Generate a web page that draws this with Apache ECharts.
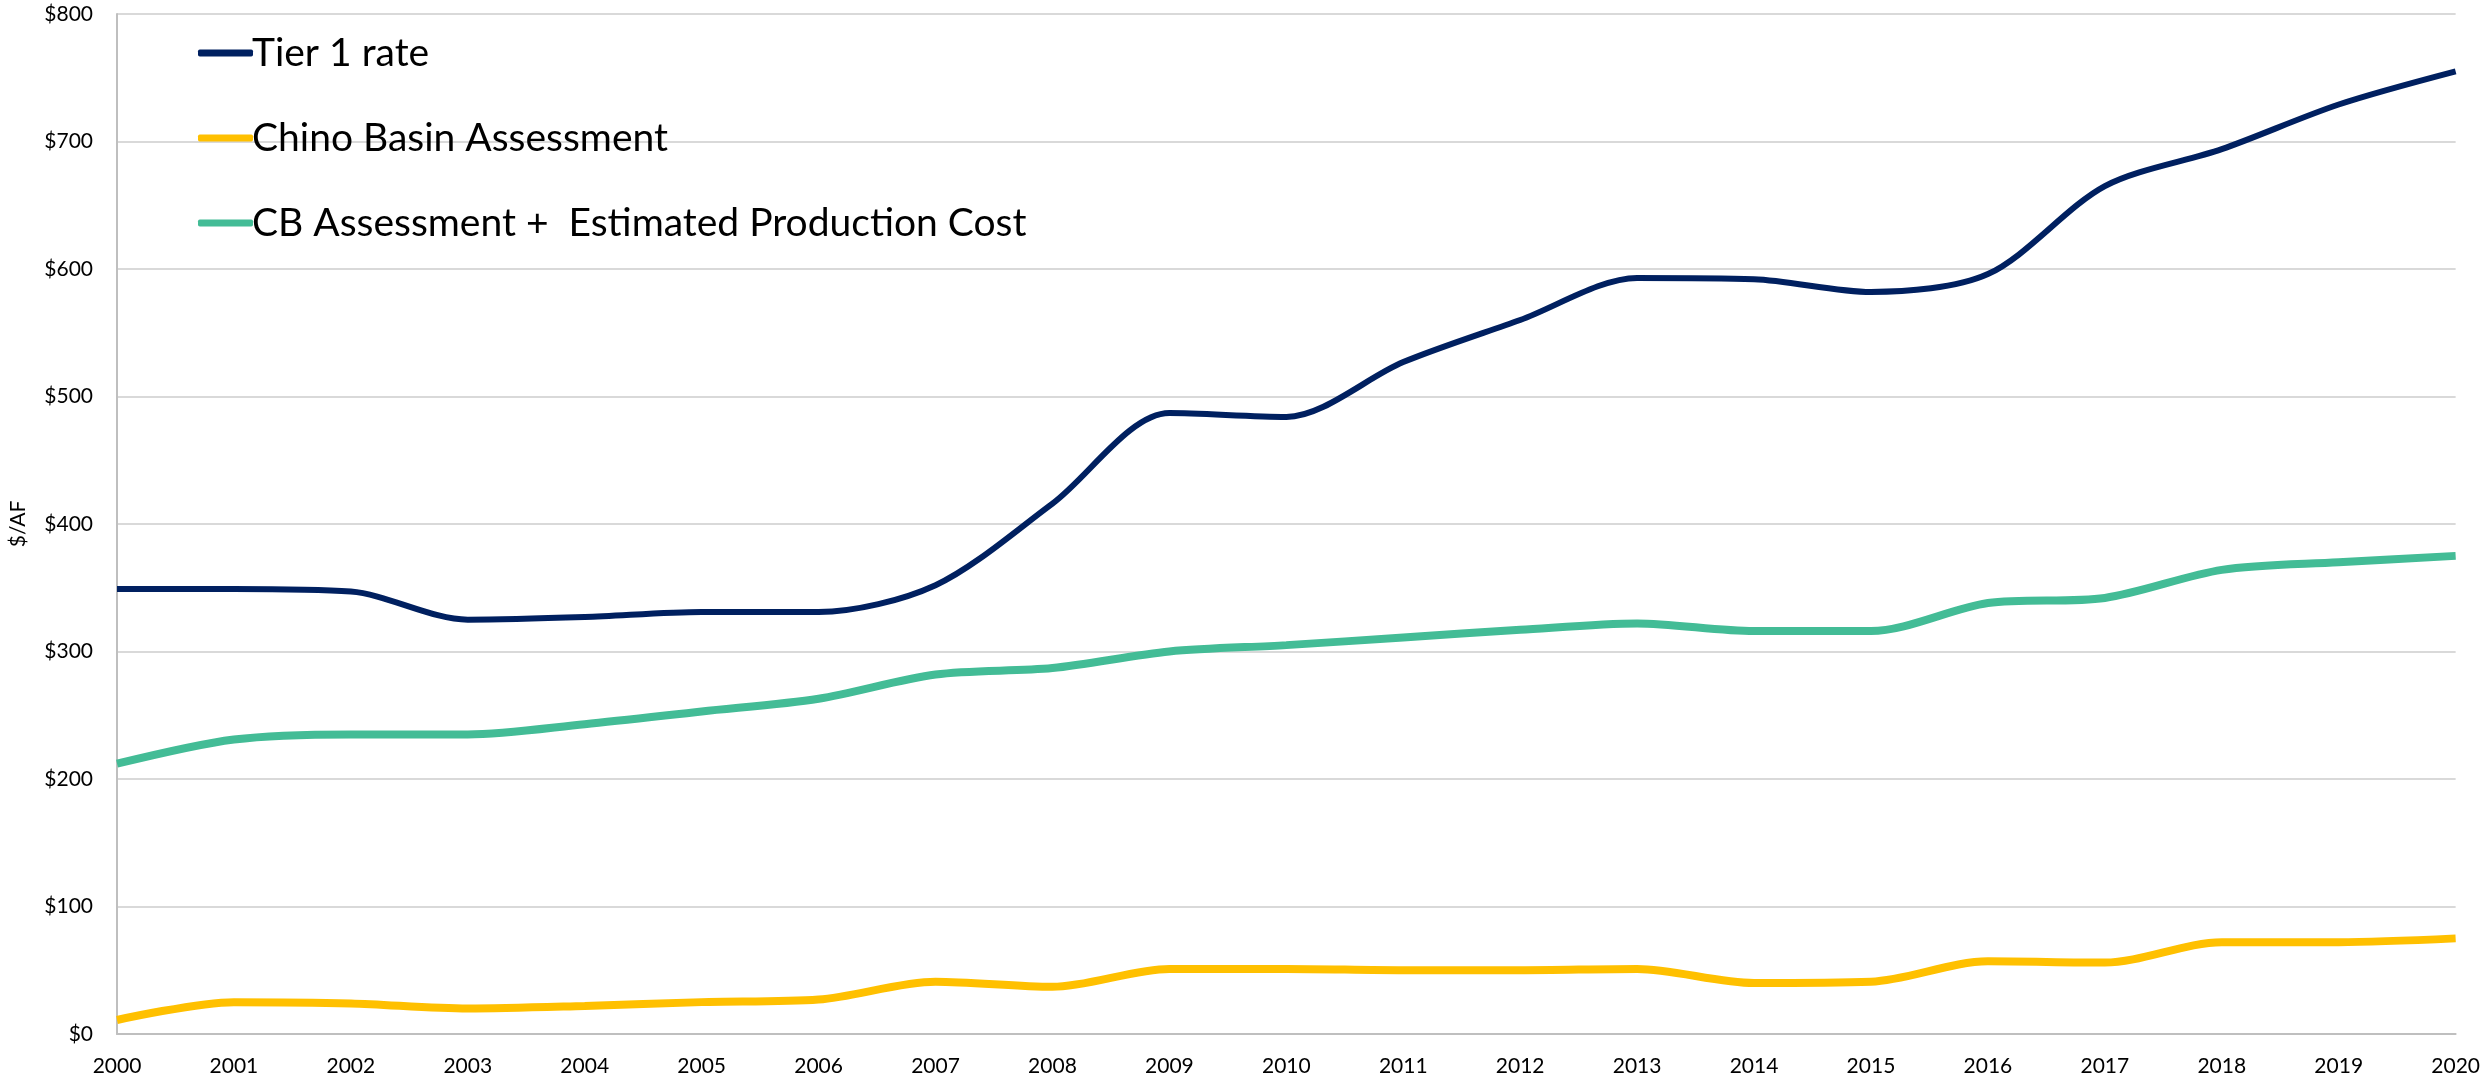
<!DOCTYPE html>
<html>
<head>
<meta charset="utf-8">
<script src="https://cdn.jsdelivr.net/npm/echarts@6/dist/echarts.min.js"></script>
<style>
html,body{margin:0;padding:0;background:#fff;}
#chart{width:2483px;height:1081px;}
</style>
</head>
<body>
<div id="chart"></div>
<script>
const years = ['2000','2001','2002','2003','2004','2005','2006','2007','2008','2009','2010','2011','2012','2013','2014','2015','2016','2017','2018','2019','2020'];
const tier1Rate = [349,349,347,325,327,331,331,352,416,487,484,527,560,593,592,582,596,665,694,729,755];
const chinoBasinAssessment = [11,25,24,20,22,25,27,41,37,51,51,50,50,51,40,41,57,56,72,72,75];
const cbPlusProduction = [212,231,235,235,243,253,263,282,287,300,305,311,317,322,316,316,338,342,364,370,375];
const seriesNames = ['Tier 1 rate','Chino Basin Assessment','CB Assessment +  Estimated Production Cost'];
const seriesColors = ['#002060','#FFC000','#43BC96'];

const FONT = 'Lato, "Open Sans", sans-serif';
const chart = echarts.init(document.getElementById('chart'));
chart.setOption({
  animation:false,
  backgroundColor:'#ffffff',
  grid:{left:107,right:15,top:14,bottom:47,containLabel:false},
  legend:{
    orient:'vertical',
    left:193, top:23,
    itemWidth:55, itemHeight:7, itemGap:35,
    icon:'roundRect',
    textStyle:{fontFamily:FONT,fontSize:39,color:'#000',lineHeight:50,padding:[0,0,0,-6]},
    data:seriesNames
  },
  xAxis:{
    type:'category', boundaryGap:false, data:years,
    axisLine:{lineStyle:{color:'#BFBFBF',width:2}},
    axisTick:{show:false},
    axisLabel:{fontFamily:FONT,fontSize:21,color:'#000',margin:22,showMaxLabel:true},
    splitLine:{show:false}
  },
  yAxis:{
    type:'value', min:0, max:800, interval:100,
    name:'$/AF', nameLocation:'middle', nameGap:88, nameRotate:90,
    nameTextStyle:{fontFamily:FONT,fontSize:21,color:'#000'},
    axisLine:{show:true,lineStyle:{color:'#BFBFBF',width:2}},
    axisTick:{show:false},
    axisLabel:{fontFamily:FONT,fontSize:21,color:'#000',margin:24,formatter:v=>'$'+v},
    splitLine:{lineStyle:{color:'#D9D9D9',width:2}}
  },
  series:[
    {name:seriesNames[0],type:'line',data:tier1Rate,smooth:0.3,symbol:'none',lineStyle:{color:seriesColors[0],width:6},itemStyle:{color:seriesColors[0]}},
    {name:seriesNames[1],type:'line',data:chinoBasinAssessment,smooth:0.3,symbol:'none',lineStyle:{color:seriesColors[1],width:8},itemStyle:{color:seriesColors[1]}},
    {name:seriesNames[2],type:'line',data:cbPlusProduction,smooth:0.3,symbol:'none',lineStyle:{color:seriesColors[2],width:8},itemStyle:{color:seriesColors[2]}}
  ]
});
</script>
</body>
</html>
